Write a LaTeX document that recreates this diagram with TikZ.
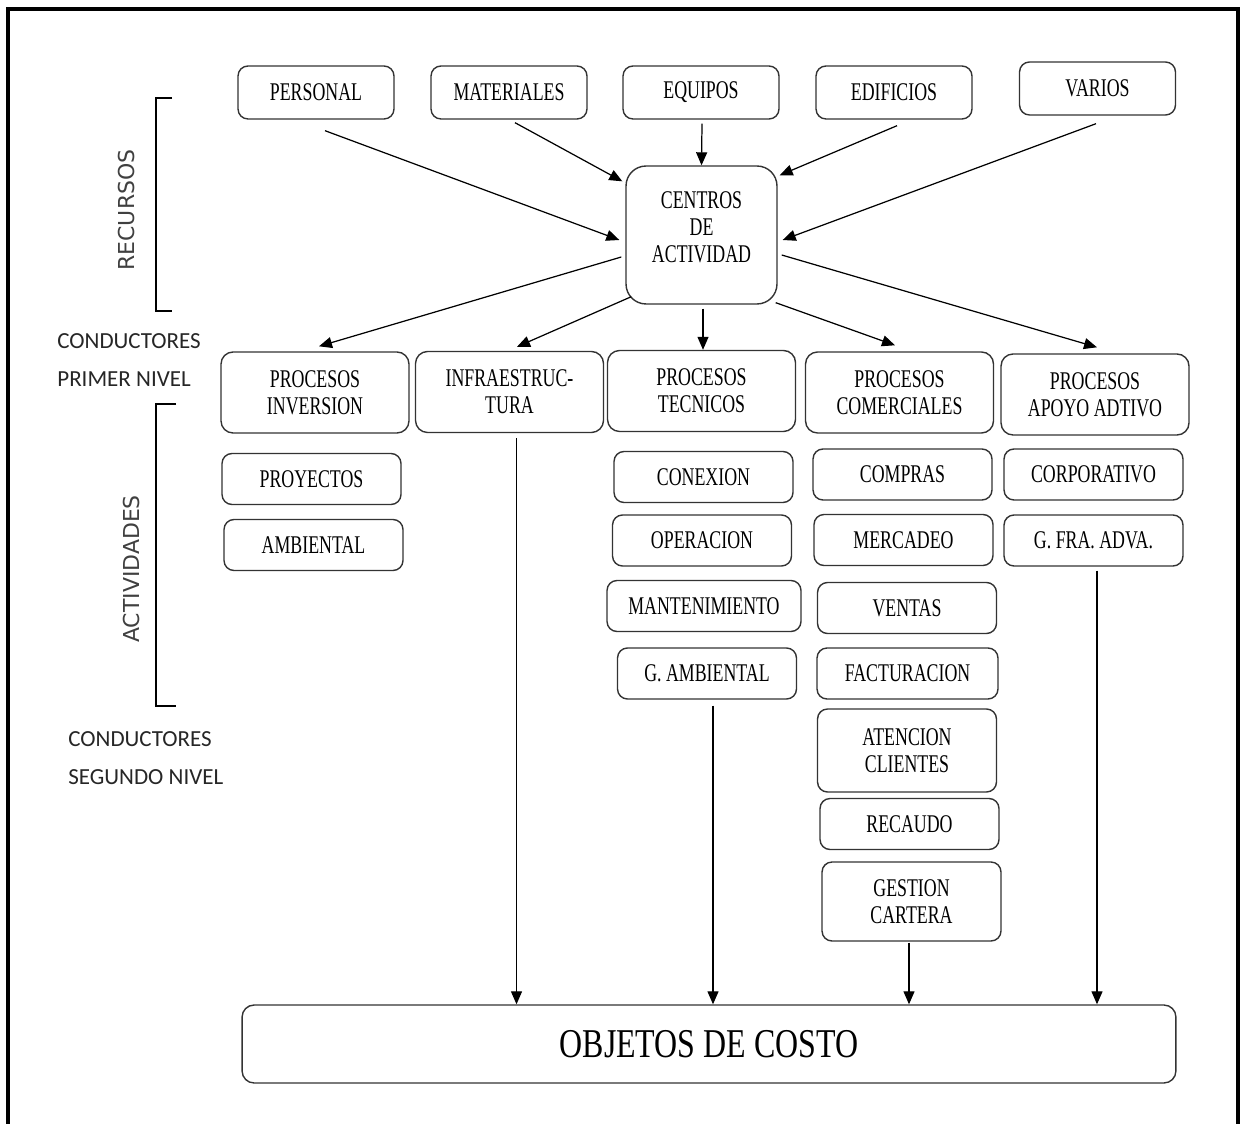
\documentclass[tikz,border=0pt]{standalone}
\usepackage{fontspec}
\setmainfont{Liberation Serif}
\newfontfamily\boxfont[FakeStretch=0.7]{Liberation Serif}
\newfontfamily\bigfont[FakeStretch=0.78]{Liberation Serif}
\newfontfamily\labelfont{Carlito}
\newfontfamily\sidefont{DejaVu Sans}
\usetikzlibrary{arrows.meta,calc}

\tikzset{
  caja/.style={draw=black!80, line width=0.8pt, rounded corners=0.2cm, inner sep=0pt,
    align=center, font=\boxfont\fontsize{14.5}{15.5}\selectfont,
    minimum width=3.58cm, minimum height=1.02cm},
  recurso/.style={caja, minimum width=3.12cm, minimum height=1.06cm},
  proceso/.style={caja, rounded corners=0.24cm, minimum width=3.76cm, minimum height=1.62cm},
  flecha/.style={-{Triangle[length=0.26cm,width=0.22cm]}, line width=0.7pt},
  llave/.style={line width=1.6pt},
  nota/.style={font=\labelfont\fontsize{13.1}{21.6}\selectfont, text=black!85,
    align=left, anchor=west, inner sep=0pt},
  eje/.style={font=\sidefont\fontsize{12.5}{15}\selectfont, text=black!75, rotate=90, inner sep=0pt},
}

\begin{document}
\begin{tikzpicture}[x=0.02cm, y=-0.02cm]
  \useasboundingbox (0,0) rectangle (1243,1124);
  \draw[line width=1.8pt] (8,1124) -- (8,9) -- (1238,9) -- (1238,1124);

  % recursos
  \node[recurso] (personal) at (316,92.5) {PERSONAL};
  \node[recurso] (materiales) at (509,92.5) {MATERIALES};
  \node[recurso] (equipos) at (701,92.5) {EQUIPOS};
  \node[recurso] (edificios) at (894,92.5) {EDIFICIOS};
  \node[recurso] (varios) at (1097.5,88.5) {VARIOS};

  \node[caja, rounded corners=0.4cm, minimum width=3.02cm, minimum height=2.76cm,
    text depth=0.32cm] (centros) at (701.5,235) {CENTROS\\DE\\ACTIVIDAD};

  % procesos
  \node[proceso] (inversion) at (315,392.5) {PROCESOS\\INVERSION};
  \node[proceso] (infra) at (509.5,392) {INFRAESTRUC-\\TURA};
  \node[proceso] (tecnicos) at (701.5,391) {PROCESOS\\TECNICOS};
  \node[proceso] (comerciales) at (899.5,392.5) {PROCESOS\\COMERCIALES};
  \node[proceso] (apoyo) at (1095,394.5) {PROCESOS\\APOYO ADTIVO};

  % actividades
  \node[caja] (proyectos) at (311.5,479) {PROYECTOS};
  \node[caja] (ambiental) at (313.5,545) {AMBIENTAL};

  \node[caja] (conexion) at (703.5,477) {CONEXION};
  \node[caja] (operacion) at (702,540.5) {OPERACION};
  \node[caja, minimum width=3.88cm] (mantenimiento) at (704,606) {MANTENIMIENTO};
  \node[caja] (gambiental) at (707,673.5) {G. AMBIENTAL};

  \node[caja] (compras) at (902.5,474.5) {COMPRAS};
  \node[caja] (mercadeo) at (903.5,540) {MERCADEO};
  \node[caja] (ventas) at (907,608) {VENTAS};
  \node[caja, minimum width=3.62cm] (facturacion) at (907.5,673.5) {FACTURACION};
  \node[caja, minimum height=1.66cm] (atencion) at (907,750.5) {ATENCION\\CLIENTES};
  \node[caja] (recaudo) at (909.5,824) {RECAUDO};
  \node[caja, minimum height=1.58cm] (gestion) at (911.5,901.5) {GESTION\\CARTERA};

  \node[caja] (corporativo) at (1093.5,474.5) {CORPORATIVO};
  \node[caja] (gfra) at (1093.5,540.5) {G. FRA. ADVA.};

  \node[caja, rounded corners=0.24cm, minimum width=18.68cm, minimum height=1.56cm,
    font=\bigfont\fontsize{23.3}{26}\selectfont] (objetos) at (709,1044) {OBJETOS DE COSTO};

  % llaves y notas
  \draw[llave] (172,98) -- (156,98) -- (156,311) -- (172,311);
  \draw[llave] (176,404) -- (156,404) -- (156,706) -- (176,706);
  \node[eje] (recursos) at (127,210) {RECURSOS};
  \node[eje] (actividades) at (132,569) {ACTIVIDADES};
  \node[nota] (primer) at (57,360) {CONDUCTORES\\PRIMER NIVEL};
  \node[nota] (segundo) at (68,758) {CONDUCTORES\\SEGUNDO NIVEL};

  % flechas hacia centros
  \draw[flecha] ($(personal.south)+(9,11)$) -- ($(centros.west)+(-6,5)$);
  \draw[flecha] ($(materiales.south)+(6,3)$) -- ($(centros.north west)+(-3,16)$);
  \draw[flecha] ($(equipos.south)+(1,4)$) -- (centros.north);
  \draw[flecha] ($(edificios.south)+(3,6)$) -- ($(centros.north east)+(2,10)$);
  \draw[flecha] ($(varios.south)+(-1.5,8)$) -- ($(centros.east)+(5,5)$);

  % flechas hacia procesos
  \draw[flecha] ($(centros.west)+(-4,22)$) -- ($(inversion.north)+(4,-5)$);
  \draw[flecha] ($(centros.south west)+(6,-8)$) -- ($(infra.north)+(7.5,-4)$);
  \draw[flecha] ($(centros.south)+(1.5,4)$) -- ($(tecnicos.north)+(1.5,0)$);
  \draw[flecha] ($(centros.south east)+(-2,-2)$) -- ($(comerciales.north)+(-4.5,-6)$);
  \draw[flecha] ($(centros.east)+(4,20)$) -- ($(apoyo.north)+(2,-6)$);

  % flechas hacia objetos
  \path (infra.south) ++(7,5) coordinate (b1);
  \path (gambiental.south) ++(6,6) coordinate (b2);
  \path (gestion.south) ++(-2.5,1) coordinate (b3);
  \path (gfra.south) ++(3.5,4) coordinate (b4);
  \foreach \b in {b1,b2,b3,b4}
    \draw[flecha] (\b) -- (\b |- objetos.north);
\end{tikzpicture}
\end{document}
